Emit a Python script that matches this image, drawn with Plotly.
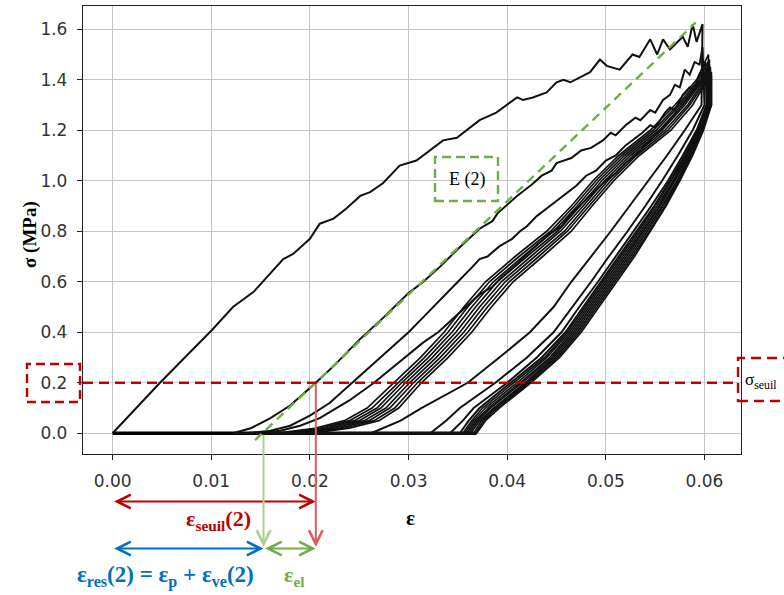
import plotly.graph_objects as go

# ---------------- data ----------------
# first loading (cycle 1)
load1_strain = [0.0, 0.0048, 0.0101, 0.0122, 0.0143, 0.0173, 0.0183, 0.0200, 0.0210, 0.0224,
                0.0237, 0.0251, 0.0261, 0.0274, 0.0291, 0.0308, 0.0335, 0.0349, 0.0372, 0.0389,
                0.0410, 0.0416, 0.0426, 0.0440, 0.0450, 0.0457, 0.0464, 0.0484, 0.0494, 0.0501,
                0.0514, 0.0527, 0.0534, 0.0545, 0.0552, 0.0558, 0.0565, 0.0578, 0.0583, 0.0588,
                0.0592, 0.0598]
load1_stress = [0.0, 0.20, 0.41, 0.50, 0.56, 0.69, 0.71, 0.77, 0.83, 0.85,
                0.89, 0.94, 0.955, 0.99, 1.06, 1.08, 1.16, 1.17, 1.24, 1.27,
                1.33, 1.32, 1.33, 1.35, 1.39, 1.40, 1.39, 1.43, 1.48, 1.455,
                1.44, 1.50, 1.49, 1.56, 1.50, 1.56, 1.52, 1.57, 1.53, 1.62,
                1.55, 1.62]

load2_strain = [0.0122, 0.0140, 0.0160, 0.0180, 0.0195, 0.0206, 0.0225, 0.0250, 0.0275, 0.0300,
                0.0315, 0.0332, 0.0350, 0.0372, 0.0385, 0.0390, 0.0410, 0.0425, 0.0435, 0.0445,
                0.0450, 0.0465, 0.0475, 0.0485, 0.0497, 0.0505, 0.0510, 0.0520, 0.0530, 0.0535,
                0.0545, 0.0550, 0.0558, 0.0565, 0.0570, 0.0575, 0.0580, 0.0585, 0.0590, 0.0595,
                0.0598]
load2_stress = [0.0, 0.02, 0.06, 0.11, 0.16, 0.20, 0.27, 0.37, 0.46, 0.555,
                0.60, 0.66, 0.73, 0.81, 0.84, 0.87, 0.94, 0.985, 1.02, 1.04,
                1.07, 1.09, 1.12, 1.13, 1.16, 1.19, 1.18, 1.22, 1.25, 1.24,
                1.28, 1.27, 1.32, 1.34, 1.38, 1.37, 1.44, 1.42, 1.47, 1.46,
                1.53]

load3_strain = [0.0135, 0.0160, 0.0180, 0.0200, 0.0220, 0.0240, 0.0260, 0.0280, 0.0300, 0.0315,
                0.0332, 0.0350, 0.0365, 0.0372, 0.0380, 0.0392, 0.0405, 0.0413, 0.0420, 0.0430,
                0.0440, 0.0453, 0.0460, 0.0470, 0.0480, 0.0490, 0.0500, 0.0510, 0.0520, 0.0530,
                0.0537, 0.0545, 0.0550, 0.0560, 0.0565, 0.0570, 0.0578, 0.0585, 0.0590, 0.0595,
                0.0601]
load3_stress = [0.0, 0.01, 0.03, 0.07, 0.12, 0.19, 0.26, 0.33, 0.40, 0.46,
                0.53, 0.60, 0.66, 0.69, 0.70, 0.74, 0.77, 0.80, 0.82, 0.86,
                0.89, 0.93, 0.95, 0.98, 1.02, 1.04, 1.08, 1.10, 1.14, 1.17,
                1.19, 1.22, 1.21, 1.27, 1.29, 1.28, 1.34, 1.37, 1.36, 1.42,
                1.47]

load4_strain = [0.0145, 0.0170, 0.0190, 0.0210, 0.0240, 0.0265, 0.0290, 0.0315, 0.0330, 0.0350,
                0.0372, 0.0385, 0.0395, 0.0410, 0.0420, 0.0443, 0.0455, 0.0465, 0.0484, 0.0500,
                0.0510, 0.0520, 0.0530, 0.0545, 0.0560, 0.0575, 0.0588, 0.0598, 0.0604]
load4_stress = [0.0, 0.01, 0.03, 0.06, 0.13, 0.20, 0.28, 0.36, 0.40, 0.47,
                0.55, 0.58, 0.62, 0.67, 0.71, 0.79, 0.82, 0.87, 0.94, 1.00,
                1.03, 1.07, 1.10, 1.16, 1.22, 1.29, 1.35, 1.40, 1.46]

# later loadings (cycles 5-12): strain at these stress levels, then the peak
bunch_stress = [0.0, 0.02, 0.05, 0.1, 0.2, 0.3, 0.4, 0.5, 0.6, 0.7, 0.8, 0.9, 1.0, 1.1, 1.2, 1.3, 1.4]
bunch_load_strain = [
    [0.0165, 0.0205, 0.0235, 0.0258, 0.0285, 0.0312, 0.0336, 0.0356, 0.0378, 0.0408, 0.0440, 0.0465, 0.0487, 0.0513, 0.0545, 0.0570, 0.0592],
    [0.0170, 0.0210, 0.0240, 0.0263, 0.0289, 0.0316, 0.0340, 0.0360, 0.0382, 0.0412, 0.0444, 0.0468, 0.0490, 0.0516, 0.0548, 0.0573, 0.0594],
    [0.0175, 0.0215, 0.0245, 0.0268, 0.0293, 0.0320, 0.0344, 0.0364, 0.0386, 0.0416, 0.0447, 0.0471, 0.0493, 0.0519, 0.0551, 0.0575, 0.0596],
    [0.0180, 0.0220, 0.0250, 0.0272, 0.0297, 0.0324, 0.0348, 0.0368, 0.0390, 0.0420, 0.0451, 0.0474, 0.0496, 0.0522, 0.0554, 0.0578, 0.0597],
    [0.0185, 0.0225, 0.0255, 0.0277, 0.0301, 0.0328, 0.0352, 0.0372, 0.0394, 0.0424, 0.0454, 0.0477, 0.0499, 0.0525, 0.0557, 0.0580, 0.0599],
    [0.0190, 0.0230, 0.0260, 0.0281, 0.0305, 0.0332, 0.0356, 0.0376, 0.0398, 0.0428, 0.0458, 0.0480, 0.0502, 0.0528, 0.0560, 0.0583, 0.0600],
    [0.0195, 0.0235, 0.0265, 0.0286, 0.0309, 0.0336, 0.0360, 0.0380, 0.0402, 0.0432, 0.0461, 0.0483, 0.0505, 0.0531, 0.0563, 0.0585, 0.0602],
    [0.0200, 0.0240, 0.0270, 0.0290, 0.0313, 0.0340, 0.0364, 0.0384, 0.0406, 0.0436, 0.0465, 0.0486, 0.0508, 0.0534, 0.0566, 0.0588, 0.0603],
]
bunch_peak_strain = [0.0604, 0.0605, 0.0605, 0.0606, 0.0606, 0.0607, 0.0607, 0.0607]
bunch_peak_stress = [1.50, 1.48, 1.46, 1.45, 1.44, 1.43, 1.42, 1.41]

# unloadings (cycles 1-12): strain at these stress levels
unload_stress = [1.3, 1.2, 1.1, 1.0, 0.9, 0.8, 0.7, 0.6, 0.5, 0.4, 0.3, 0.2, 0.1, 0.05, 0.0]
unload_strain = [
    [0.0597, 0.0580, 0.0562, 0.0543, 0.0524, 0.0505, 0.0485, 0.0465, 0.0447, 0.0423, 0.0392, 0.0360, 0.0313, 0.0292, 0.0262],
    [0.0600, 0.0588, 0.0573, 0.0557, 0.0540, 0.0522, 0.0503, 0.0485, 0.0466, 0.0447, 0.0420, 0.0388, 0.0352, 0.0338, 0.0322],
    [0.0602, 0.0592, 0.0578, 0.0563, 0.0546, 0.0528, 0.0510, 0.0492, 0.0473, 0.0455, 0.0430, 0.0400, 0.0366, 0.0355, 0.0342],
    [0.0603, 0.0593, 0.0580, 0.0565, 0.0549, 0.0531, 0.0513, 0.0495, 0.0477, 0.0459, 0.0435, 0.0404, 0.0372, 0.0361, 0.0352],
    [0.0604, 0.0594, 0.0581, 0.0566, 0.0550, 0.0533, 0.0515, 0.0497, 0.0479, 0.0461, 0.0438, 0.0407, 0.0375, 0.0364, 0.0355],
    [0.0604, 0.0595, 0.0582, 0.0568, 0.0552, 0.0535, 0.0517, 0.0499, 0.0481, 0.0463, 0.0440, 0.0410, 0.0378, 0.0366, 0.0357],
    [0.0605, 0.0596, 0.0583, 0.0569, 0.0554, 0.0537, 0.0519, 0.0501, 0.0483, 0.0465, 0.0443, 0.0413, 0.0381, 0.0368, 0.0359],
    [0.0605, 0.0596, 0.0584, 0.0570, 0.0555, 0.0538, 0.0521, 0.0503, 0.0485, 0.0467, 0.0445, 0.0415, 0.0383, 0.0370, 0.0361],
    [0.0606, 0.0597, 0.0585, 0.0572, 0.0557, 0.0540, 0.0523, 0.0505, 0.0487, 0.0469, 0.0447, 0.0418, 0.0386, 0.0372, 0.0363],
    [0.0606, 0.0598, 0.0586, 0.0573, 0.0558, 0.0542, 0.0525, 0.0507, 0.0489, 0.0471, 0.0449, 0.0420, 0.0388, 0.0374, 0.0366],
    [0.0607, 0.0598, 0.0587, 0.0574, 0.0560, 0.0544, 0.0527, 0.0509, 0.0491, 0.0473, 0.0451, 0.0422, 0.0390, 0.0376, 0.0368],
    [0.0607, 0.0599, 0.0588, 0.0575, 0.0561, 0.0545, 0.0529, 0.0511, 0.0493, 0.0475, 0.0453, 0.0424, 0.0392, 0.0378, 0.0369],
]

# zero-stress hold
zero_hold_strain = [0.0, 0.0369]
zero_hold_stress = [0.0, 0.0]

# tangent modulus E(2) (green dashed)
tangent_strain = [0.01444, 0.0591]
tangent_stress = [-0.027, 1.626]

sigma_seuil = 0.2
eps_seuil = 0.0206
eps_res = 0.0153

x_ticks = [0.00, 0.01, 0.02, 0.03, 0.04, 0.05, 0.06]
y_ticks = [0.0, 0.2, 0.4, 0.6, 0.8, 1.0, 1.2, 1.4, 1.6]
x_range = [-0.003, 0.0637]
y_range = [-0.082, 1.692]

# ---------------- figure ----------------
W, H = 784, 595
ML, MR, MT, MB = 83, 43, 6, 141
PW, PH = W - ML - MR, H - MT - MB

def pxx(p):
    return (p - ML) / PW

def pxy(p):
    return (H - MB - p) / PH

def y_to_px(v):
    return MT + (y_range[1] - v) / (y_range[1] - y_range[0]) * PH

RED = "#C00000"
RED_L = "#D86060"
GREEN = "#70AD47"
GREEN_L = "#A9D18E"
BLUE = "#0070C0"
SERIF = "Liberation Serif"

fig = go.Figure()

load_curves = [(load1_strain, load1_stress), (load2_strain, load2_stress),
               (load3_strain, load3_stress), (load4_strain, load4_stress)]
for bx, pkx, pky in zip(bunch_load_strain, bunch_peak_strain, bunch_peak_stress):
    load_curves.append((bx + [pkx], bunch_stress + [pky]))

fig.add_trace(go.Scatter(x=zero_hold_strain, y=zero_hold_stress, mode="lines",
                         line=dict(color="#000", width=3.6), showlegend=False, hoverinfo="skip"))

prev_end = None
for i, ((lx, ly), ux) in enumerate(zip(load_curves, unload_strain)):
    xs = list(lx) + list(ux)
    ys = list(ly) + list(unload_stress)
    if prev_end is not None:
        xs = [prev_end] + xs
        ys = [0.0] + ys
    prev_end = ux[-1]
    fig.add_trace(go.Scatter(x=xs, y=ys, mode="lines",
                             line=dict(color="#111", width=2.0 if i < 4 else 1.7),
                             showlegend=False, hoverinfo="skip"))

fig.add_trace(go.Scatter(x=tangent_strain, y=tangent_stress, mode="lines",
                         line=dict(color=GREEN, width=2.4, dash="9px,6px"),
                         showlegend=False, hoverinfo="skip"))

shapes = []
shapes.append(dict(type="line", xref="paper", yref="y", x0=0, x1=pxx(737), y0=sigma_seuil, y1=sigma_seuil,
                   line=dict(color=RED, width=2.6, dash="10px,6px")))
shapes.append(dict(type="rect", xref="paper", yref="paper", x0=pxx(27), x1=pxx(80), y0=pxy(402), y1=pxy(364),
                   line=dict(color=RED, width=2.4, dash="9px,5px")))
shapes.append(dict(type="rect", xref="paper", yref="paper", x0=pxx(738), x1=pxx(800), y0=pxy(401), y1=pxy(358),
                   line=dict(color=RED, width=2.4, dash="10px,6px")))
shapes.append(dict(type="rect", xref="paper", yref="paper", x0=pxx(435), x1=pxx(498), y0=pxy(201), y1=pxy(157),
                   line=dict(color=GREEN, width=2.4, dash="9px,5px")))
fig.update_layout(shapes=shapes)

def label(text, xp, yp, size, color="#000", angle=0, xanchor="center"):
    return dict(text=text, xref="paper", yref="paper", x=pxx(xp), y=pxy(yp), textangle=angle,
                xanchor=xanchor, yanchor="middle", showarrow=False,
                font=dict(family=SERIF, size=size, color=color))

ann = []
ann.append(label("<b>σ (MPa)</b>", 30, 235, 19, angle=-90))
ann.append(label("<b>ε</b>", 410, 518, 21))
ann.append(label("E (2)", 467, 180, 18))
ann.append(label("σ<sub>seuil</sub>", 743, 381, 17, xanchor="left"))

def harrow(x0, x1, ypx, color):
    return dict(text="", x=x1, y=pxy(ypx), xref="x", yref="paper", ax=x0, ay=0, axref="x", ayref="pixel",
                showarrow=True, arrowside="end+start", arrowhead=5, startarrowhead=5,
                arrowsize=1.35, startarrowsize=1.35, arrowwidth=2, arrowcolor=color)

def varrow(x, y_tail_px, y_tip_px, color):
    return dict(text="", x=x, y=pxy(y_tip_px), xref="x", yref="paper", ax=0, ay=y_tail_px - y_tip_px,
                axref="pixel", ayref="pixel", showarrow=True, arrowhead=5, arrowsize=1.35,
                arrowwidth=2, arrowcolor=color)

ann.append(harrow(0.0, eps_seuil, 501.5, RED))
ann.append(varrow(eps_seuil, y_to_px(sigma_seuil), 547, RED_L))
ann.append(varrow(eps_res, y_to_px(0.0), 547, GREEN_L))
ann.append(harrow(0.0, eps_res, 548.5, BLUE))
ann.append(harrow(eps_res, eps_seuil, 548.5, GREEN))

ann.append(label("<b>ε<sub>seuil</sub>(2)</b>", 218, 520, 22, RED))
ann.append(label("<b>ε<sub>res</sub>(2) = ε<sub>p</sub> + ε<sub>ve</sub>(2)</b>", 165, 576, 23, BLUE))
ann.append(label("<b>ε<sub>el</sub></b>", 294, 576, 22, GREEN))
fig.update_layout(annotations=ann)

axis_common = dict(showgrid=True, gridcolor="#c4c4c4", gridwidth=1.3, zeroline=False,
                   showline=True, linecolor="#222", linewidth=1.3, mirror=True,
                   ticks="outside", ticklen=5, tickwidth=1.2, tickcolor="#222",
                   tickfont=dict(family="DejaVu Sans", size=17, color="#333"))
fig.update_xaxes(range=x_range, tickvals=x_ticks, tickformat=".2f", ticklabelstandoff=6, **axis_common)
fig.update_yaxes(range=y_range, tickvals=y_ticks, tickformat=".1f", ticklabelstandoff=6, **axis_common)

fig.update_layout(width=W, height=H, margin=dict(l=ML, r=MR, t=MT, b=MB),
                  paper_bgcolor="white", plot_bgcolor="white", showlegend=False)

fig.write_html("out.html", config={"displayModeBar": False},
               post_script="document.body.style.margin='0px';document.body.style.overflow='hidden';")
